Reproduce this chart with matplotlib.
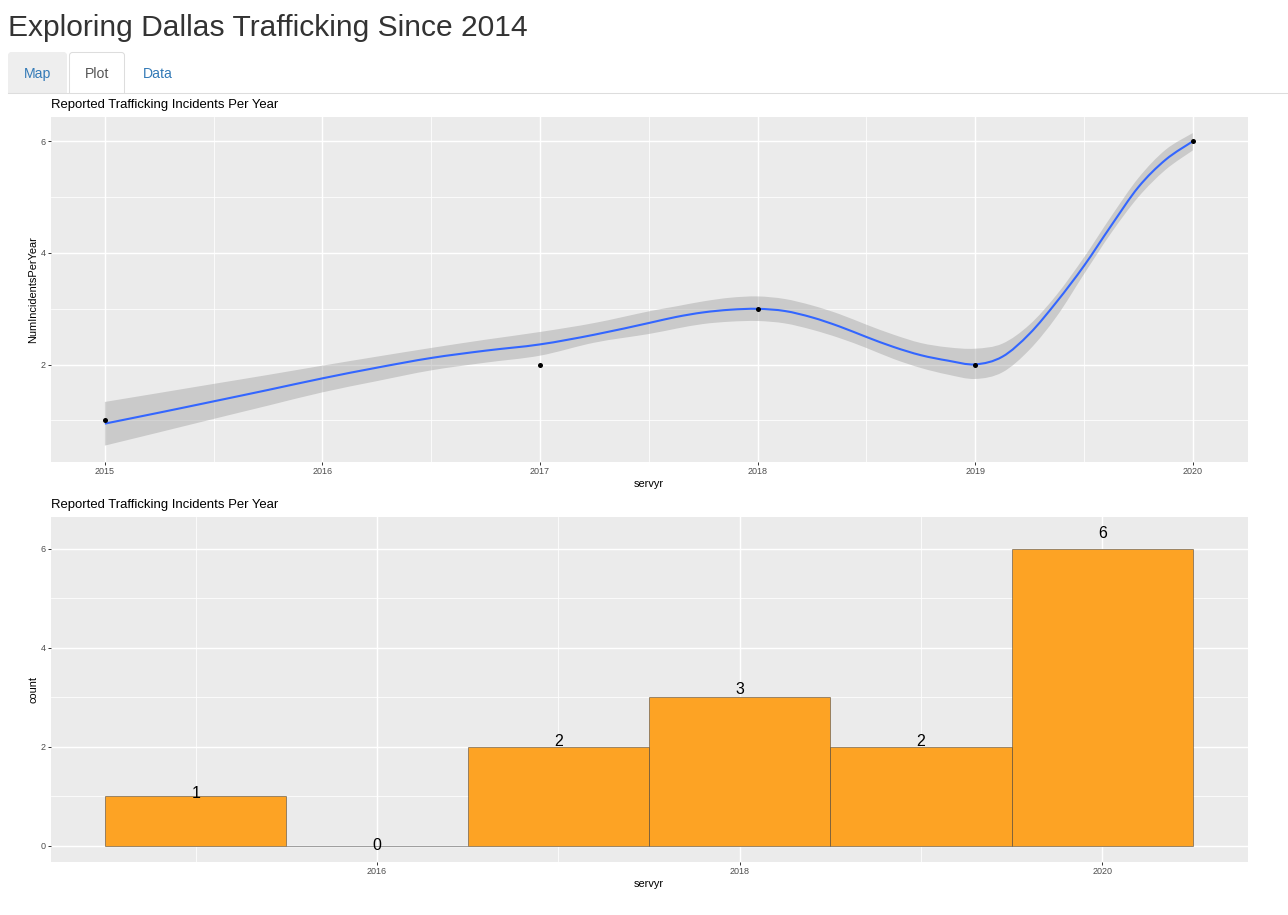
import numpy as np
import matplotlib
matplotlib.use("Agg")
import matplotlib.pyplot as plt
from matplotlib.patches import FancyBboxPatch, Rectangle, PathPatch
from matplotlib.path import Path

plt.rcParams['font.family'] = ['Liberation Sans', 'DejaVu Sans']

W, H = 1288, 915

# ---- data ----
page_title = "Exploring Dallas Trafficking Since 2014"
tab_labels = ["Map", "Plot", "Data"]
chart_title = "Reported Trafficking Incidents Per Year"

point_years = [2015, 2017, 2018, 2019, 2020]
point_values = [1, 2, 3, 2, 6]

smooth_years = [2015, 2015.25, 2015.5, 2015.75, 2016, 2016.25, 2016.5, 2016.75,
                2017, 2017.25, 2017.5, 2017.625, 2017.75, 2017.875, 2018,
                2018.125, 2018.25, 2018.375, 2018.5, 2018.625, 2018.75, 2018.875,
                2019, 2019.125, 2019.25, 2019.375, 2019.5, 2019.625, 2019.75,
                2019.875, 2020]
smooth_line = [0.944, 1.141, 1.343, 1.547, 1.755, 1.946, 2.120, 2.251,
               2.363, 2.537, 2.746, 2.854, 2.936, 2.984, 3.000,
               2.961, 2.847, 2.686, 2.496, 2.317, 2.170, 2.072,
               2.005, 2.143, 2.555, 3.128, 3.770, 4.490, 5.180,
               5.670, 6.000]
smooth_upper = [1.332, 1.493, 1.655, 1.816, 1.982, 2.143, 2.299, 2.447,
                2.585, 2.746, 2.954, 3.043, 3.133, 3.199, 3.222,
                3.176, 3.061, 2.907, 2.716, 2.537, 2.388, 2.310,
                2.286, 2.376, 2.716, 3.253, 3.920, 4.654, 5.342,
                5.848, 6.147]
smooth_lower = [0.550, 0.788, 1.028, 1.266, 1.504, 1.705, 1.898, 2.036,
                2.161, 2.394, 2.549, 2.644, 2.728, 2.770, 2.782,
                2.739, 2.626, 2.478, 2.299, 2.102, 1.941, 1.821,
                1.744, 1.862, 2.268, 2.865, 3.620, 4.357, 5.002,
                5.490, 5.836]

bar_years = [2015, 2016, 2017, 2018, 2019, 2020]
bar_counts = [1, 0, 2, 3, 2, 6]

TOP_X_MAJOR = [2015, 2016, 2017, 2018, 2019, 2020]
TOP_X_MINOR = [2015.5, 2016.5, 2017.5, 2018.5, 2019.5]
BOT_X_MAJOR = [2016, 2018, 2020]
BOT_X_MINOR = [2015, 2017, 2019]
Y_MAJOR = [2, 4, 6]
Y_MINOR = [1, 3, 5]
BOT_Y_MAJOR = [0, 2, 4, 6]

FONT = ['Liberation Sans', 'DejaVu Sans']


def panel(x0, y0, x1, y1):
    return fig.add_axes([x0 / W, 1 - y1 / H, (x1 - x0) / W, (y1 - y0) / H])


def style(ax, xmaj, xmin, ymaj, ymin):
    ax.set_facecolor('#EBEBEB')
    for s in ax.spines.values():
        s.set_visible(False)
    ax.set_axisbelow(True)
    ax.set_xticks(xmaj)
    ax.set_xticks(xmin, minor=True)
    ax.set_yticks(ymaj)
    ax.set_yticks(ymin, minor=True)
    ax.set_xticklabels([str(v) for v in xmaj])
    ax.grid(True, which='major', color='white', lw=1.05)
    ax.grid(True, which='minor', color='white', lw=0.55)
    ax.tick_params(which='minor', length=0)
    ax.tick_params(which='major', length=2.0, width=0.7, color='#333333',
                   labelcolor='#4D4D4D', labelsize=6.5, pad=1.9)


def smooth_segments(xs, ys):
    """Bezier segments running through the read values, in data units."""
    xs, ys = np.asarray(xs, float), np.asarray(ys, float)
    px = np.r_[xs[0], xs, xs[-1]]
    py = np.r_[ys[0], ys, ys[-1]]
    verts, codes = [], []
    for i in range(1, len(px) - 2):
        c1 = (px[i] + (px[i + 1] - px[i - 1]) / 6, py[i] + (py[i + 1] - py[i - 1]) / 6)
        c2 = (px[i + 1] - (px[i + 2] - px[i]) / 6, py[i + 1] - (py[i + 2] - py[i]) / 6)
        verts += [c1, c2, (px[i + 1], py[i + 1])]
        codes += [Path.CURVE4] * 3
    return verts, codes


def smooth_path(xs, ys):
    v, c = smooth_segments(xs, ys)
    return Path([(xs[0], ys[0])] + v, [Path.MOVETO] + c)


def band_path(xs, lo, hi):
    v1, c1 = smooth_segments(xs, hi)
    v2, c2 = smooth_segments(xs[::-1], lo[::-1])
    verts = [(xs[0], hi[0])] + v1 + [(xs[-1], lo[-1])] + v2 + [(xs[0], hi[0])]
    codes = [Path.MOVETO] + c1 + [Path.LINETO] + c2 + [Path.CLOSEPOLY]
    return Path(verts, codes)


fig = plt.figure(figsize=(W / 100, H / 100), dpi=100, facecolor='white')

# ---- page chrome ----
page = fig.add_axes([0, 0, 1, 1], zorder=0)
page.set_xlim(0, W)
page.set_ylim(H, 0)
page.axis('off')
page.text(8, 36.5, page_title, fontsize=21.6, color='#333333', va='baseline', family=FONT)
page.add_patch(FancyBboxPatch((8.5, 52.5), 58, 60, boxstyle="round,pad=0,rounding_size=3",
                              fc='#EEEEEE', ec='#EEEEEE', lw=0.7))
page.add_patch(FancyBboxPatch((69.5, 52.5), 55, 60, boxstyle="round,pad=0,rounding_size=3",
                              fc='white', ec='#DDDDDD', lw=0.75))
page.add_patch(Rectangle((0, 94), W, 30, fc='white', ec='none', zorder=3))
page.plot([8, W], [93.4, 93.4], color='#DDDDDD', lw=0.75, zorder=4)
for label, cx, col in zip(tab_labels, [37.5, 97.5, 158], ['#337AB7', '#555555', '#337AB7']):
    page.text(cx, 78, label, fontsize=10.1, color=col, ha='center', va='baseline', family=FONT, zorder=5)

# ---- top panel ----
ax1 = panel(51, 116.7, 1247.5, 461.7)
ax1.set_xlim(2014.7525, 2020.2515)
ax1.set_ylim(0.262, 6.441)
style(ax1, TOP_X_MAJOR, TOP_X_MINOR, Y_MAJOR, Y_MINOR)
ax1.add_patch(PathPatch(band_path(smooth_years, smooth_lower, smooth_upper),
                        fc='#999999', alpha=0.4, lw=0, zorder=2))
ax1.add_patch(PathPatch(smooth_path(smooth_years, smooth_line), fill=False,
                        ec='#3366FF', lw=1.5, zorder=3))
ax1.scatter(point_years, point_values, s=13, color='black', lw=0, zorder=4)
ax1.set_xlabel('servyr', fontsize=7.9, color='black', labelpad=2.4)
ax1.set_ylabel('NumIncidentsPerYear', fontsize=7.9, color='black', labelpad=1.5)
fig.text(51 / W, 1 - 108 / H, chart_title, fontsize=9.45, color='black', va='baseline')

# ---- bottom panel ----
ax2 = panel(51, 516.7, 1247.5, 861.7)
ax2.set_xlim(2014.2015, 2020.8015)
ax2.set_ylim(-0.317, 6.646)
style(ax2, BOT_X_MAJOR, BOT_X_MINOR, BOT_Y_MAJOR, Y_MINOR)
ax2.bar(bar_years, bar_counts, width=1.0, color='#FDA324',
        edgecolor=(0.2, 0.2, 0.2, 0.47), lw=0.72, zorder=2)
for yr, c in zip(bar_years, bar_counts):
    ax2.text(yr, c * 1.05, str(c), fontsize=11.5, color='black', ha='center', va='center', zorder=3)
ax2.set_xlabel('servyr', fontsize=7.9, color='black', labelpad=2.4)
ax2.set_ylabel('count', fontsize=7.9, color='black', labelpad=1.5)
fig.text(51 / W, 1 - 508 / H, chart_title, fontsize=9.45, color='black', va='baseline')

fig.savefig('out.png', dpi=100, facecolor='white')
